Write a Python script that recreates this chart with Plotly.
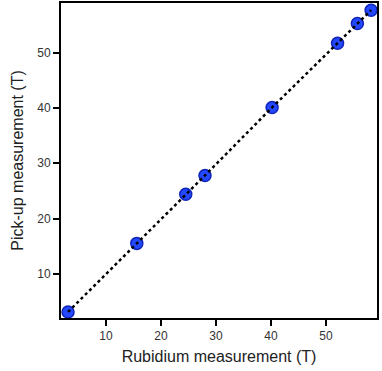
import plotly.graph_objects as go

# Rubidium vs pick-up coil field measurements (T)
rubidium = [3.1, 15.6, 24.5, 28.0, 40.2, 52.1, 55.7, 58.2]
pickup = [3.1, 15.5, 24.4, 27.8, 40.1, 51.7, 55.3, 57.7]

fig = go.Figure()
fig.add_trace(go.Scatter(
    x=rubidium, y=pickup, mode="markers", cliponaxis=False,
    marker=dict(size=12, color="#2448ff",
                line=dict(color="#1024b8", width=1.5)),
))
fig.add_trace(go.Scatter(
    x=rubidium, y=pickup, mode="lines",
    line=dict(color="black", width=2.5, dash="dot"),
    hoverinfo="skip",
))

axis_common = dict(
    showline=True, linecolor="black", linewidth=2, mirror=True,
    ticks="outside", ticklen=6, tickwidth=2, tickcolor="black",
    showgrid=False, zeroline=False,
    tickfont=dict(size=12, color="#333333"),
    dtick=10,
)

fig.update_layout(
    width=382, height=371,
    paper_bgcolor="white", plot_bgcolor="white",
    showlegend=False,
    font=dict(family="Liberation Sans, Arial, sans-serif", color="#222222"),
    margin=dict(l=61, r=5, t=3, b=53, autoexpand=False),
    xaxis=dict(axis_common, range=[1.82, 59.27],
               title=dict(text="Rubidium measurement (T)", font=dict(size=16), standoff=8)),
    yaxis=dict(axis_common, range=[2.0, 59.0],
               title=dict(text="Pick-up measurement (T)", font=dict(size=16), standoff=10)),
)

# drop the page's default body margin so the figure sits at the window origin
fig.write_html("out.html", config={"displayModeBar": False},
               post_script="document.body.style.margin='0';")
